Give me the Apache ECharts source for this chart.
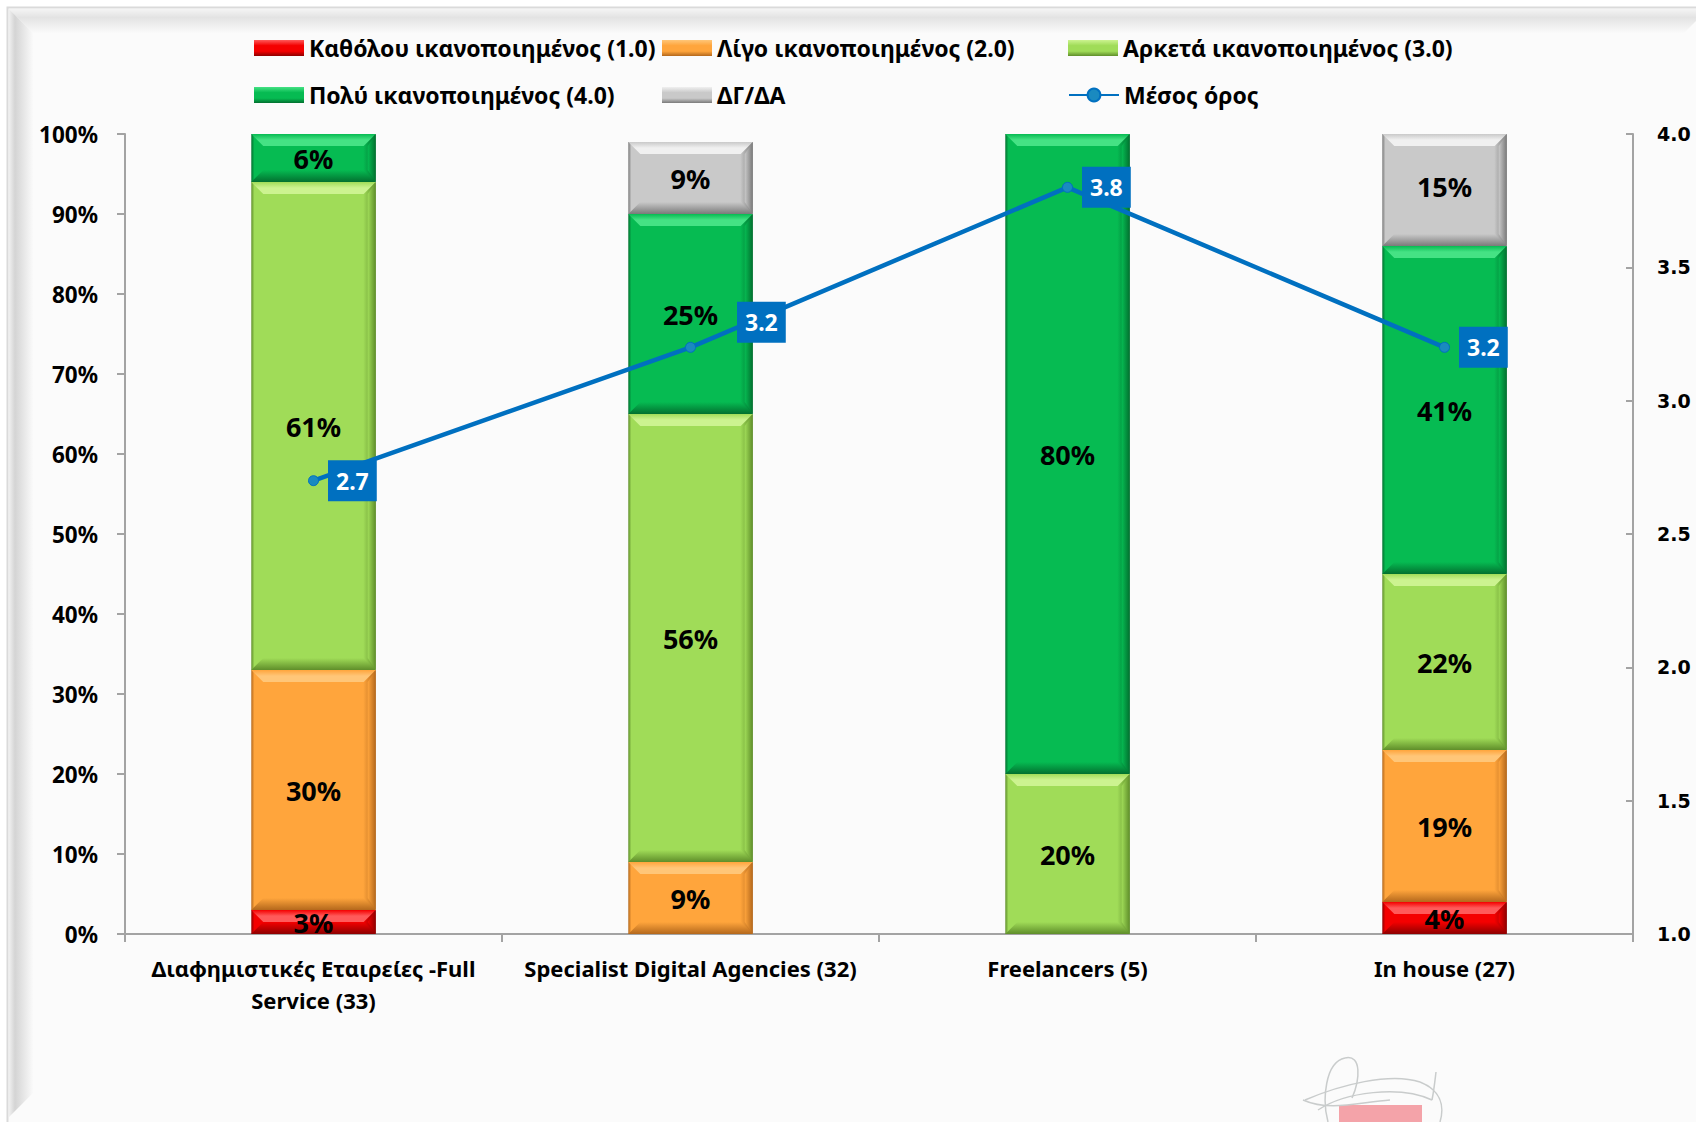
<!DOCTYPE html>
<html>
<head>
<meta charset="utf-8">
<title>Ικανοποίηση ανά τύπο συνεργάτη</title>
<script src="https://cdn.jsdelivr.net/npm/echarts@6/dist/echarts.min.js"></script>
<style>
  html, body { margin: 0; padding: 0; background: #ffffff; }
  #chart { width: 1696px; height: 1122px; }
</style>
</head>
<body>
<div id="chart"></div>
<script>
// Categories (x axis)
const categories = [
  'Διαφημιστικές Εταιρείες -Full\nService (33)',
  'Specialist Digital Agencies (32)',
  'Freelancers (5)',
  'In house (27)'
];

// Satisfaction shares (%) per category
const notAtAll = [3, 0, 0, 4];     // Καθόλου ικανοποιημένος (1.0)
const slightly = [30, 9, 0, 19];   // Λίγο ικανοποιημένος (2.0)
const fairly   = [61, 56, 20, 22]; // Αρκετά ικανοποιημένος (3.0)
const very     = [6, 25, 80, 41];  // Πολύ ικανοποιημένος (4.0)
const dkna     = [0, 9, 0, 15];    // ΔΓ/ΔΑ

// Mean score (right axis, 1-4 scale)
const meanScore = [2.7, 3.2, 3.8, 3.2];

const seriesNames = [
  'Καθόλου ικανοποιημένος (1.0)',
  'Λίγο ικανοποιημένος (2.0)',
  'Αρκετά ικανοποιημένος (3.0)',
  'Πολύ ικανοποιημένος (4.0)',
  'ΔΓ/ΔΑ'
];
const meanName = 'Μέσος όρος';

const palettes = [
  { base: '#F40000', light: '#FF5A5A', dark: '#8E0000' },
  { base: '#FFA53C', light: '#FFC678', dark: '#B4681C' },
  { base: '#A0DC58', light: '#CCF390', dark: '#5F8E2A' },
  { base: '#06BB52', light: '#45E284', dark: '#02702F' },
  { base: '#C9C9C9', light: '#F0F0F0', dark: '#7A7A7A' }
];

const FONT = '"Noto Sans", "DejaVu Sans", sans-serif';
const BAR_RATIO = 0.33;
const BEVEL = 12;
const EDGE = 8;

const LG = echarts.graphic.LinearGradient;

// Build stacked segments [categoryIndex, base, value]
const stackValues = [notAtAll, slightly, fairly, very, dkna];
const segmentData = stackValues.map((vals, k) =>
  vals.map((v, i) => {
    let base = 0;
    for (let j = 0; j < k; j++) base += stackValues[j][i];
    return [i, base, v];
  })
);

function segmentRenderer(pal) {
  return function (params, api) {
    const ci = api.value(0);
    const base = api.value(1);
    const v = api.value(2);
    if (!v) return null;
    const top = api.coord([ci, base + v]);
    const bot = api.coord([ci, base]);
    const bw = api.size([1, 0])[0] * BAR_RATIO;
    const cx = top[0];
    const x0 = cx - bw / 2, x1 = cx + bw / 2;
    const cs = params.coordSys;
    const yT = Math.max(top[1], cs.y);
    const yB = Math.min(bot[1], cs.y + cs.height);
    const h = yB - yT;
    const b = Math.min(BEVEL, h / 2);
    const e = Math.min(EDGE, b);
    return {
      type: 'group',
      children: [
        {
          type: 'rect',
          shape: { x: x0, y: yT, width: bw, height: h },
          style: {
            fill: new LG(0, 0, 1, 0, [
              { offset: 0, color: pal.dark },
              { offset: 0.025, color: pal.base },
              { offset: 0.9, color: pal.base },
              { offset: 1, color: pal.dark }
            ])
          }
        },
        {
          type: 'polygon',
          shape: { points: [[x0, yT], [x1, yT], [x1 - b, yT + b], [x0 + b, yT + b]] },
          style: {
            fill: new LG(0, 0, 0, 1, [
              { offset: 0, color: pal.base },
              { offset: 0.5, color: pal.light },
              { offset: 1, color: pal.light }
            ])
          }
        },
        {
          type: 'polygon',
          shape: { points: [[x0, yB], [x1, yB], [x1 - b, yB - b], [x0 + b, yB - b]] },
          style: {
            fill: new LG(0, 0, 0, 1, [
              { offset: 0, color: pal.base },
              { offset: 1, color: pal.dark }
            ])
          }
        },
        {
          type: 'polygon',
          shape: { points: [[x1 - e, yT + b], [x1, yT], [x1, yB], [x1 - e, yB - b]] },
          style: {
            fill: new LG(0, 0, 1, 0, [
              { offset: 0, color: pal.base },
              { offset: 1, color: pal.dark }
            ])
          }
        },
        {
          type: 'text',
          x: cx,
          y: (top[1] + bot[1]) / 2,
          style: {
            text: v + '%',
            fill: '#000000',
            fontFamily: FONT,
            fontWeight: 'bold',
            fontSize: 27,
            align: 'center',
            verticalAlign: 'middle'
          }
        }
      ]
    };
  };
}

const barSeries = seriesNames.map((name, k) => ({
  name: name,
  type: 'custom',
  xAxisIndex: 0,
  yAxisIndex: 0,
  itemStyle: { color: palettes[k].base },
  encode: { x: 0, y: [1, 2] },
  data: segmentData[k],
  renderItem: segmentRenderer(palettes[k]),
  z: 2
}));

const meanSeries = {
  name: meanName,
  type: 'line',
  yAxisIndex: 1,
  data: meanScore.map((v, i) => i === 1
    ? { value: v, label: { offset: [32, -25] } }
    : v),
  symbol: 'circle',
  symbolSize: 10,
  itemStyle: { color: '#1A8AC0', borderColor: '#0070C0', borderWidth: 1 },
  lineStyle: { color: '#0070C0', width: 4.5 },
  label: {
    show: true,
    position: 'right',
    distance: 9,
    formatter: p => p.value.toFixed(1),
    backgroundColor: '#0070C0',
    color: '#FFFFFF',
    fontFamily: FONT,
    fontWeight: 'bold',
    fontSize: 23,
    lineHeight: 25,
    padding: [9, 8, 7, 8]
  },
  z: 5
};

// Legend laid out in a 3-column grid
const legendCols = [254, 662, 1068];
const legendRows = [35, 82];
const legendItems = [
  { name: seriesNames[0], col: 0, row: 0, pal: palettes[0] },
  { name: seriesNames[1], col: 1, row: 0, pal: palettes[1] },
  { name: seriesNames[2], col: 2, row: 0, pal: palettes[2] },
  { name: seriesNames[3], col: 0, row: 1, pal: palettes[3] },
  { name: seriesNames[4], col: 1, row: 1, pal: palettes[4] },
  { name: meanName, col: 2, row: 1, pal: null }
];
const legends = legendItems.map(it => ({
  left: legendCols[it.col],
  top: legendRows[it.row],
  orient: 'horizontal',
  padding: 0,
  itemWidth: 50,
  itemHeight: 16,
  selectedMode: false,
  textStyle: {
    fontFamily: FONT,
    fontWeight: 'bold',
    fontSize: 23,
    color: '#000000',
    lineHeight: 26
  },
  data: [it.pal ? {
    name: it.name,
    icon: 'rect',
    itemStyle: {
      color: new LG(0, 0, 0, 1, [
        { offset: 0, color: it.pal.light },
        { offset: 0.35, color: it.pal.base },
        { offset: 0.7, color: it.pal.base },
        { offset: 1, color: it.pal.dark }
      ])
    }
  } : { name: it.name }]
}));

const axisGray = '#A3A3A3';
const scribble = '#C9CCCC';

function curve(x1, y1, cx1, cy1, cx2, cy2, x2, y2) {
  return {
    type: 'bezierCurve', z: -9,
    shape: { x1: x1, y1: y1, cpx1: cx1, cpy1: cy1, cpx2: cx2, cpy2: cy2, x2: x2, y2: y2 },
    style: { stroke: scribble, lineWidth: 1.5, fill: null }
  };
}

const option = {
  backgroundColor: '#FFFFFF',
  animation: false,
  legend: legends,
  grid: { left: 125, right: 63, top: 134, bottom: 188, containLabel: false },
  xAxis: {
    type: 'category',
    data: categories,
    boundaryGap: true,
    axisLine: { lineStyle: { color: axisGray, width: 2 } },
    axisTick: { show: true, length: 8, lineStyle: { color: axisGray, width: 2 } },
    axisLabel: {
      margin: 18,
      color: '#000000',
      fontFamily: FONT,
      fontWeight: 'bold',
      fontSize: 22,
      lineHeight: 32,
      interval: 0
    }
  },
  yAxis: [
    {
      type: 'value',
      min: 0,
      max: 100,
      interval: 10,
      axisLine: { show: true, lineStyle: { color: axisGray, width: 2 } },
      axisTick: { show: true, length: 8, lineStyle: { color: axisGray, width: 2 } },
      splitLine: { show: false },
      axisLabel: {
        margin: 27,
        formatter: '{value}%',
        color: '#000000',
        fontFamily: FONT,
        fontWeight: 'bold',
        fontSize: 22.5
      }
    },
    {
      type: 'value',
      min: 1,
      max: 4,
      interval: 0.5,
      position: 'right',
      axisLine: { show: true, lineStyle: { color: axisGray, width: 2 } },
      axisTick: { show: true, inside: true, length: 7, lineStyle: { color: axisGray, width: 2 } },
      splitLine: { show: false },
      axisLabel: {
        margin: 24,
        formatter: v => v.toFixed(1),
        color: '#000000',
        fontFamily: '"DejaVu Sans", Verdana, sans-serif',
        fontWeight: 'bold',
        fontSize: 19
      }
    }
  ],
  graphic: [
    // panel background and bevelled frame
    { type: 'rect', z: -20, shape: { x: 9, y: 9, width: 1700, height: 1120 }, style: { fill: '#FBFBFB' } },
    { type: 'polyline', z: -19, shape: { points: [[7.5, 1122], [7.5, 7.5], [1696, 7.5]] }, style: { stroke: '#DADADA', lineWidth: 2, fill: null } },
    {
      type: 'polygon', z: -18,
      shape: { points: [[9, 9], [1708, 9], [1684, 33], [33, 33]] },
      style: { fill: new LG(0, 0, 0, 1, [{ offset: 0, color: '#F4F4F4' }, { offset: 0.35, color: '#E3E3E3' }, { offset: 1, color: '#FAFAFA' }]) }
    },
    {
      type: 'polygon', z: -18,
      shape: { points: [[9, 9], [33, 33], [33, 1093], [9, 1117]] },
      style: { fill: new LG(0, 0, 1, 0, [{ offset: 0, color: '#F0F0F0' }, { offset: 0.25, color: '#D4D4D4' }, { offset: 1, color: '#FAFAFA' }]) }
    },
    // small logo mark at the lower right
    { type: 'rect', z: -10, shape: { x: 1339, y: 1105, width: 83, height: 20 }, style: { fill: '#F4A3A9' } },
    curve(1328, 1122, 1322, 1100, 1325, 1062, 1345, 1058),
    curve(1345, 1058, 1362, 1054, 1360, 1080, 1352, 1098),
    curve(1305, 1100, 1340, 1085, 1390, 1072, 1420, 1082),
    curve(1420, 1082, 1440, 1090, 1445, 1105, 1440, 1122),
    curve(1318, 1110, 1345, 1092, 1400, 1085, 1432, 1100),
    curve(1432, 1100, 1434, 1090, 1435, 1080, 1436, 1072),
    curve(1303, 1100, 1330, 1112, 1360, 1102, 1390, 1100)
  ],
  series: barSeries.concat([meanSeries])
};

const chart = echarts.init(document.getElementById('chart'), null, { renderer: 'svg' });
chart.setOption(option);
</script>
</body>
</html>
